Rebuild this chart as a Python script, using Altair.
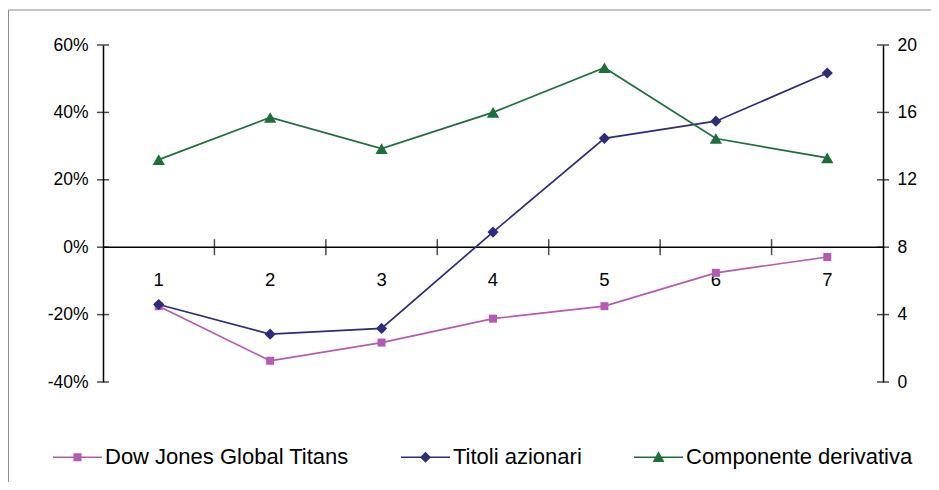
import altair as alt
import pandas as pd

categories = [1, 2, 3, 4, 5, 6, 7]
series_names = ["Dow Jones Global Titans", "Titoli azionari", "Componente derivativa"]
dow_jones = [-17.5, -33.7, -28.3, -21.2, -17.5, -7.6, -2.9]
titoli = [-17.0, -25.8, -24.1, 4.5, 32.3, 37.4, 51.7]
componente = [13.2, 15.7, 13.85, 16.0, 18.65, 14.45, 13.3]
left_tick_values = [-40, -20, 0, 20, 40, 60]
right_tick_values = [0, 4, 8, 12, 16, 20]
series_colors = ["#B35BB3", "#2E2C7A", "#1E6E3C"]
marker_shapes = ["square", "diamond", "triangle-up"]
marker_sizes = [64, 125, 150]
# legend glyphs: thin bar (the line) plus the marker
legend_paths = [
    "M-1,-0.03H1V0.03H-1ZM-0.165,-0.165H0.165V0.165H-0.165Z",
    "M-1,-0.03H1V0.03H-1ZM0,-0.22L0.22,0L0,0.22L-0.22,0Z",
    "M-1,-0.03H1V0.03H-1ZM0,-0.24L0.24,0.19H-0.24Z",
]

W, H = 780, 337
font = "Liberation Sans"

left_df = pd.DataFrame({
    "x": categories * 2,
    "value": dow_jones + titoli,
    "series": [series_names[0]] * len(categories) + [series_names[1]] * len(categories),
})
right_df = pd.DataFrame({"x": categories, "value": componente, "series": [series_names[2]] * len(categories)})
cat_df = pd.DataFrame({"x": categories, "label": [str(c) for c in categories]})
boundary_df = pd.DataFrame({"x": [c + 0.5 for c in categories[:-1]]})
tick_df = pd.DataFrame({"value": left_tick_values})

x_scale = alt.Scale(domain=[0.5, 7.5], nice=False, zero=False)
left_scale = alt.Scale(domain=[-40, 60], nice=False, zero=False)
right_scale = alt.Scale(domain=[0, 20], nice=False, zero=False)
color_scale = alt.Scale(domain=series_names, range=series_colors)
legend_shape_scale = alt.Scale(domain=series_names, range=legend_paths)

left_axis = alt.Axis(
    orient="left", values=left_tick_values, ticks=False, grid=False, title=None,
    labelExpr="datum.value + '%'", labelPadding=15, labelFontSize=17.5, labelFont=font,
    labelColor="black", domainWidth=1.5, domainColor="black")
right_axis = alt.Axis(
    orient="right", values=right_tick_values, ticks=False, grid=False, title=None,
    labelPadding=14, labelFontSize=17.5, labelFont=font, labelColor="black",
    domainWidth=1.5, domainColor="black")

legend = alt.Legend(
    title=None, orient="none", legendX=-50, legendY=387.5, direction="horizontal",
    columns=3, columnPadding=52, labelFont=font, labelFontSize=22,
    labelColor="black", labelOffset=3, symbolSize=2401, padding=0, labelLimit=500,
    symbolStrokeWidth=0, symbolOpacity=1,
)

X = alt.X("x:Q", scale=x_scale, axis=None)
YL = alt.Y("value:Q", scale=left_scale, axis=left_axis)
YR = alt.Y("value:Q", scale=right_scale, axis=right_axis)
Y0 = alt.YDatum(0, scale=left_scale, axis=left_axis)

frame = alt.Chart(pd.DataFrame({"a": [0]})).mark_rect(
    fill="transparent", stroke="#8c8c8c", strokeWidth=1
).encode(x=alt.value(-94.5), x2=alt.value(W + 200), y=alt.value(-35), y2=alt.value(H + 200))

zero_line = alt.Chart(pd.DataFrame({"a": [0]})).mark_rule(color="black", strokeWidth=1.5).encode(y=Y0)

boundary_ticks = alt.Chart(boundary_df).mark_tick(
    orient="vertical", size=16, thickness=1.5, color="black"
).encode(x=X, y=Y0)

left_axis_ticks = alt.Chart(tick_df).mark_tick(
    orient="horizontal", size=12, thickness=1.5, color="black"
).encode(x=alt.value(0), y=YL)

right_axis_ticks = alt.Chart(tick_df).mark_tick(
    orient="horizontal", size=12, thickness=1.5, color="black"
).encode(x=alt.value(W), y=YL)

x_labels = alt.Chart(cat_df).mark_text(
    font=font, fontSize=18.5, color="black", dy=33, baseline="middle"
).encode(x=X, y=Y0, text="label:N")


def series_layers(df, y, idx):
    base = alt.Chart(df).transform_filter(alt.datum.series == series_names[idx])
    line = base.mark_line(strokeWidth=1.7, color=series_colors[idx]).encode(x=X, y=y)
    pts = base.mark_point(
        filled=True, opacity=1, shape=marker_shapes[idx], size=marker_sizes[idx],
        color=series_colors[idx]
    ).encode(x=X, y=y)
    return [line, pts]


legend_holder = alt.Chart(left_df).transform_filter("false").mark_point(
    filled=True, opacity=1
).encode(
    color=alt.Color("series:N", scale=color_scale, legend=legend),
    shape=alt.Shape("series:N", scale=legend_shape_scale, legend=legend),
)

left_group = alt.layer(
    frame, zero_line, boundary_ticks, left_axis_ticks, right_axis_ticks, x_labels,
    *series_layers(left_df, YL, 0), *series_layers(left_df, YL, 1), legend_holder)
right_group = alt.layer(*series_layers(right_df, YR, 2))

chart = alt.layer(left_group, right_group).resolve_scale(y="independent").properties(
    width=W, height=H,
    padding={"left": 95, "top": 37, "right": 48, "bottom": 100},
    autosize=alt.AutoSizeParams(type="none"),
    background="white",
).configure_view(stroke=None)

chart.save("out.html", embed_options={"renderer": "svg", "actions": False})
